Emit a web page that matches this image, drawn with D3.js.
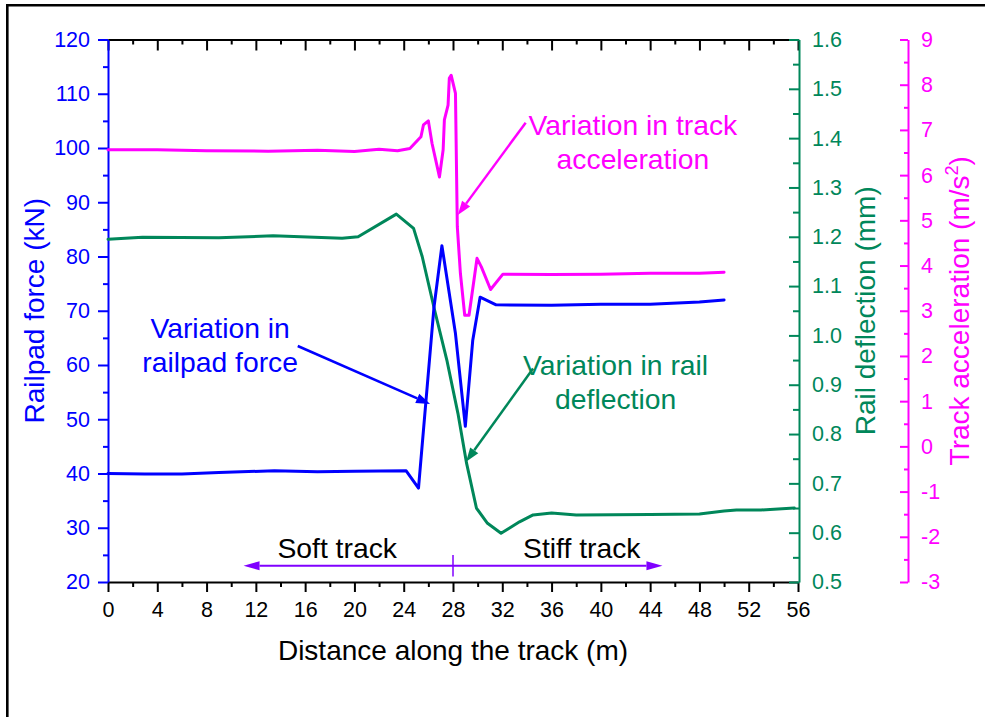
<!DOCTYPE html>
<html>
<head>
<meta charset="utf-8">
<script src="https://cdn.jsdelivr.net/npm/d3@7/dist/d3.min.js"></script>
<style>
  html, body { margin: 0; padding: 0; background: #fff; }
  svg { display: block; font-family: "Liberation Sans", Arial, sans-serif; }
</style>
</head>
<body>
<svg id="chart" width="985" height="717"></svg>
<script>
// Railpad force along the track (kN)
const forceDist = [0, 3, 6, 9, 13.5, 17, 20, 24.2, 25.2, 26.45, 27.1, 28.2, 29.0, 29.6, 30.2, 31.5, 36, 40, 44, 48, 50];
const forceVal  = [40, 39.9, 39.9, 40.2, 40.5, 40.3, 40.4, 40.5, 37.3, 70.5, 82, 65.8, 48.7, 64.5, 72.5, 71.1, 71, 71.2, 71.2, 71.6, 72];

// Rail deflection along the track (mm)
const deflDist = [0, 2.8, 9, 13.4, 19, 20.3, 23.4, 24.8, 25.5, 26.5, 27.5, 28.4, 29.1, 29.9, 30.8, 31.9, 33.4, 34.5, 36, 38, 44, 48, 50, 51, 53, 55.7];
const deflVal  = [1.195, 1.199, 1.198, 1.202, 1.197, 1.2, 1.246, 1.217, 1.16, 1.052, 0.95, 0.842, 0.741, 0.65, 0.619, 0.599, 0.622, 0.636, 0.64, 0.636, 0.637, 0.638, 0.644, 0.646, 0.646, 0.65];

// Track acceleration along the track (m/s^2)
const accDist = [0, 4, 8, 13, 17, 20, 22, 23.5, 24.5, 25.4, 25.6, 26.0, 26.3, 26.9, 27.2, 27.3, 27.6, 27.7, 27.85, 28.2, 28.35, 28.6, 28.95, 29.3, 29.95, 30.3, 31.05, 32.05, 36, 40, 44, 48, 50];
const accVal  = [6.56, 6.56, 6.54, 6.53, 6.55, 6.52, 6.57, 6.54, 6.59, 6.85, 7.11, 7.2, 6.70, 5.96, 6.56, 7.22, 7.55, 8.14, 8.21, 7.81, 4.86, 3.83, 2.9, 2.9, 4.16, 3.97, 3.47, 3.81, 3.8, 3.81, 3.83, 3.83, 3.85];

// Axis ticks
const xMajor = d3.range(0, 57, 4);
const xMinor = d3.range(2, 57, 4);
const forceMajor = d3.range(20, 121, 10);
const forceMinor = d3.range(25, 120, 10);
const deflMajor = d3.range(5, 17, 1).map(v => v / 10);
const deflMinor = d3.range(5, 16, 1).map(v => (v + 0.5) / 10);
const accMajor = d3.range(-3, 10, 1);
const accMinor = d3.range(-3, 9, 1).map(v => v + 0.5);

const BLUE = "#0000ff", GREEN = "#00875a", MAGENTA = "#ff00ff", PURPLE = "#8000ff";

const svg = d3.select("#chart");

// outer frame
svg.append("path")
  .attr("d", "M7.3,730 L7.3,5.3 L1000,5.3")
  .attr("fill", "none").attr("stroke", "#000").attr("stroke-width", 2.6);

const x = d3.scaleLinear().domain([0, 56]).range([108, 798]);
const yForce = d3.scaleLinear().domain([20, 120]).range([582, 39.5]);
const yDefl = d3.scaleLinear().domain([0.5, 1.6]).range([582, 39.5]);
const yAcc = d3.scaleLinear().domain([-3, 9]).range([582, 39.5]);

const TICK_FONT = 21.5;
const plain = d => String(d);

function styleAxis(g, color, width) {
  g.selectAll("path.domain").attr("stroke", color).attr("stroke-width", width);
  g.selectAll(".tick line").attr("stroke", color).attr("stroke-width", 2);
  g.selectAll(".tick text").attr("fill", color).attr("font-size", TICK_FONT)
    .attr("font-family", "Liberation Sans, Arial, sans-serif");
}

// top frame line (ticks inward)
const gTop = svg.append("g").attr("transform", `translate(0,${yForce(120)})`);
gTop.call(d3.axisBottom(x).tickValues(xMajor).tickSizeInner(11).tickSizeOuter(0).tickFormat(""));
gTop.append("g").call(d3.axisBottom(x).tickValues(xMinor).tickSizeInner(5).tickSizeOuter(0).tickFormat(""))
  .select("path.domain").remove();
styleAxis(gTop, "#000", 2);

// bottom axis
const gBot = svg.append("g").attr("transform", `translate(0,${yForce(20)})`);
gBot.call(d3.axisBottom(x).tickValues(xMajor).tickSizeInner(10).tickSizeOuter(0).tickPadding(10).tickFormat(plain));
gBot.append("g").call(d3.axisBottom(x).tickValues(xMinor).tickSizeInner(5).tickSizeOuter(0).tickFormat(""))
  .select("path.domain").remove();
styleAxis(gBot, "#000", 2);

// left axis: railpad force
const gL = svg.append("g").attr("transform", `translate(${x(0)},0)`);
gL.call(d3.axisLeft(yForce).tickValues(forceMajor).tickSizeInner(10).tickSizeOuter(0).tickPadding(8).tickFormat(plain));
gL.append("g").call(d3.axisLeft(yForce).tickValues(forceMinor).tickSizeInner(5).tickSizeOuter(0).tickFormat(""))
  .select("path.domain").remove();
styleAxis(gL, BLUE, 2);

// right axis: rail deflection (ticks inward)
const gR1 = svg.append("g").attr("transform", `translate(${x(56) + 1},0)`);
gR1.call(d3.axisRight(yDefl).tickValues(deflMajor).tickSizeInner(-10).tickSizeOuter(0).tickPadding(13).tickFormat(d3.format(".1f")));
gR1.append("g").call(d3.axisRight(yDefl).tickValues(deflMinor).tickSizeInner(-6).tickSizeOuter(0).tickFormat(""))
  .select("path.domain").remove();
styleAxis(gR1, GREEN, 2);

// far right axis: track acceleration (ticks inward)
const gR2 = svg.append("g").attr("transform", "translate(908,0)");
gR2.call(d3.axisRight(yAcc).tickValues(accMajor).tickSizeInner(-8).tickSizeOuter(0).tickPadding(13).tickFormat(plain));
gR2.append("g").call(d3.axisRight(yAcc).tickValues(accMinor).tickSizeInner(-4).tickSizeOuter(0).tickFormat(""))
  .select("path.domain").remove();
styleAxis(gR2, MAGENTA, 2);

// axis titles
const TITLE_FONT = 28;
const midY = (yForce(20) + yForce(120)) / 2;
svg.append("text").attr("transform", `translate(44,${midY}) rotate(-90)`)
  .attr("text-anchor", "middle").attr("fill", BLUE).attr("font-size", TITLE_FONT)
  .text("Railpad force (kN)");
svg.append("text").attr("transform", `translate(875,${midY}) rotate(-90)`)
  .attr("text-anchor", "middle").attr("fill", GREEN).attr("font-size", TITLE_FONT)
  .text("Rail deflection (mm)");
const accTitle = svg.append("text").attr("transform", `translate(969,${midY}) rotate(-90)`)
  .attr("text-anchor", "middle").attr("fill", MAGENTA).attr("font-size", TITLE_FONT);
accTitle.append("tspan").text("Track acceleration (m/s");
accTitle.append("tspan").attr("font-size", TITLE_FONT * 0.65).attr("dy", -11).text("2");
accTitle.append("tspan").attr("dy", 11).text(")");
svg.append("text").attr("x", (x(0) + x(56)) / 2).attr("y", 660)
  .attr("text-anchor", "middle").attr("fill", "#000").attr("font-size", TITLE_FONT)
  .text("Distance along the track (m)");

// series lines
function series(dist, vals, yScale, color) {
  const pts = dist.map((d, i) => [d, vals[i]]);
  svg.append("path").datum(pts)
    .attr("d", d3.line().x(p => x(p[0])).y(p => yScale(p[1])))
    .attr("fill", "none").attr("stroke", color).attr("stroke-width", 3)
    .attr("stroke-linejoin", "round").attr("stroke-linecap", "round");
}
series(deflDist, deflVal, yDefl, GREEN);
series(forceDist, forceVal, yForce, BLUE);
series(accDist, accVal, yAcc, MAGENTA);

// arrow helper: line with filled triangular head at (x2,y2)
function arrow(x1, y1, x2, y2, color, len, half, width) {
  const a = Math.atan2(y2 - y1, x2 - x1);
  const bx = x2 - len * Math.cos(a), by = y2 - len * Math.sin(a);
  svg.append("line").attr("x1", x1).attr("y1", y1).attr("x2", bx).attr("y2", by)
    .attr("stroke", color).attr("stroke-width", width);
  const px = -Math.sin(a) * half, py = Math.cos(a) * half;
  svg.append("path")
    .attr("d", `M${x2},${y2}L${bx + px},${by + py}L${bx - px},${by - py}Z`)
    .attr("fill", color);
}

// annotations (positions in data units)
const ANN_FONT = 28.3;
function label(lines, cx, baseline, color) {
  lines.forEach((t, i) => {
    svg.append("text").attr("x", cx).attr("y", baseline + i * 34)
      .attr("text-anchor", "middle").attr("fill", color).attr("font-size", ANN_FONT).text(t);
  });
}
label(["Variation in track", "acceleration"], x(42.6), yAcc(6.88), MAGENTA);
arrow(x(33.9), yAcc(7.16), x(28.39), yAcc(5.12), MAGENTA, 14, 5, 2.5);

label(["Variation in", "railpad force"], x(9.1), yForce(65.0), BLUE);
arrow(x(15.4), yForce(63.5), x(26.14), yForce(52.8), BLUE, 14, 5, 2.5);

label(["Variation in rail", "deflection"], x(41.2), yDefl(0.919), GREEN);
arrow(x(34.5), yDefl(0.933), x(29.06), yDefl(0.744), GREEN, 14, 5, 2.5);

// soft / stiff track zones
svg.append("text").attr("x", x(18.6)).attr("y", yForce(24.5)).attr("text-anchor", "middle")
  .attr("fill", "#000").attr("font-size", ANN_FONT).text("Soft track");
svg.append("text").attr("x", x(38.45)).attr("y", yForce(24.5)).attr("text-anchor", "middle")
  .attr("fill", "#000").attr("font-size", ANN_FONT).text("Stiff track");
arrow(x(28), yForce(23), x(11), yForce(23), PURPLE, 16, 4.5, 2);
arrow(x(28), yForce(23), x(45), yForce(23), PURPLE, 16, 4.5, 2);
svg.append("line").attr("x1", x(28)).attr("x2", x(28))
  .attr("y1", yForce(25)).attr("y2", yForce(21))
  .attr("stroke", PURPLE).attr("stroke-width", 1.5);
</script>
</body>
</html>
